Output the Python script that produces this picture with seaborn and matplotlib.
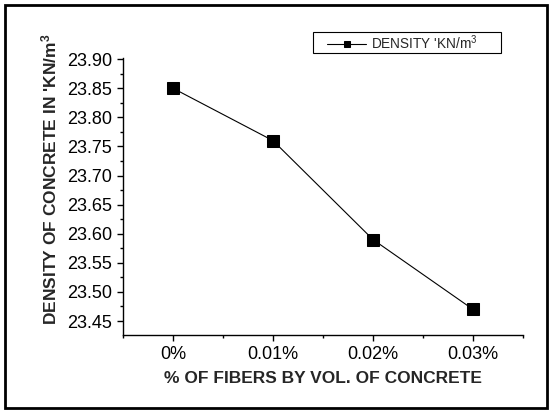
import matplotlib
matplotlib.use("Agg")
import matplotlib.pyplot as plt
from matplotlib.patches import Rectangle
from matplotlib.ticker import MultipleLocator
import seaborn as sns
import pandas as pd

categories = ["0%", "0.01%", "0.02%", "0.03%"]
density = [23.85, 23.76, 23.59, 23.47]
yticks = [23.45, 23.50, 23.55, 23.60, 23.65, 23.70, 23.75, 23.80, 23.85, 23.90]

sns.set_theme(style="ticks")
plt.rcParams['font.family'] = ['Liberation Sans', 'DejaVu Sans']
plt.rcParams['mathtext.fontset'] = 'custom'
plt.rcParams['mathtext.rm'] = 'Liberation Sans'
plt.rcParams['mathtext.it'] = 'Liberation Sans'
plt.rcParams['mathtext.bf'] = 'Liberation Sans:bold'

df = pd.DataFrame({"pos": range(len(categories)), "density": density})

W, H = 550, 412
fig = plt.figure(figsize=(5.5, 4.12), dpi=100)
ax = fig.add_axes([123/W, 1-335/H, 400/W, 277/H])

sns.lineplot(data=df, x="pos", y="density", ax=ax, color="black", linewidth=0.8,
             marker="s", markersize=8, markeredgecolor="black", markerfacecolor="black",
             sort=False, label="DENSITY 'KN/m$^{\\mathrm{3}}$")

ax.set_xlim(-0.5, 3.5)
ax.set_ylim(23.426, 23.902)
ax.set_xticks(range(len(categories)))
ax.set_xticklabels(categories)
ax.set_yticks(yticks)
ax.set_yticklabels([f"{v:.2f}" for v in yticks])
ax.xaxis.set_minor_locator(MultipleLocator(0.5))
ax.yaxis.set_minor_locator(MultipleLocator(0.025))
ax.tick_params(axis='both', which='major', direction='out', length=4.5, width=1, labelsize=13, colors='black', pad=3.5)
ax.tick_params(axis='both', which='minor', direction='out', length=2.5, width=1, colors='black')
for s in ['top', 'right']:
    ax.spines[s].set_visible(False)
for s in ['left', 'bottom']:
    ax.spines[s].set_linewidth(1)
    ax.spines[s].set_color('black')

ax.set_xlabel("% OF FIBERS BY VOL. OF CONCRETE", fontsize=12.5, fontweight='bold', labelpad=6)
ax.set_ylabel("DENSITY OF CONCRETE IN 'KN/m$^{\\mathbf{3}}$", fontsize=12.5, fontweight='bold')
ax.yaxis.set_label_coords((59-123)/400, (335-179)/277)

leg = ax.legend(loc='center left', bbox_to_anchor=(327/W, 1-42.5/H), bbox_transform=fig.transFigure,
                frameon=False, fontsize=9.8, handlelength=2.9, borderpad=0, borderaxespad=0,
                handletextpad=0.35, markerscale=0.55)

fig.patches.append(Rectangle((313/W, 1-53/H), 188/W, 21/H, transform=fig.transFigure,
                             fill=False, edgecolor='black', linewidth=0.8))
fig.patches.append(Rectangle((5/W, 4/H), 542/W, 403/H, transform=fig.transFigure,
                             fill=False, edgecolor='black', linewidth=2))

fig.savefig("out.png", dpi=100)
